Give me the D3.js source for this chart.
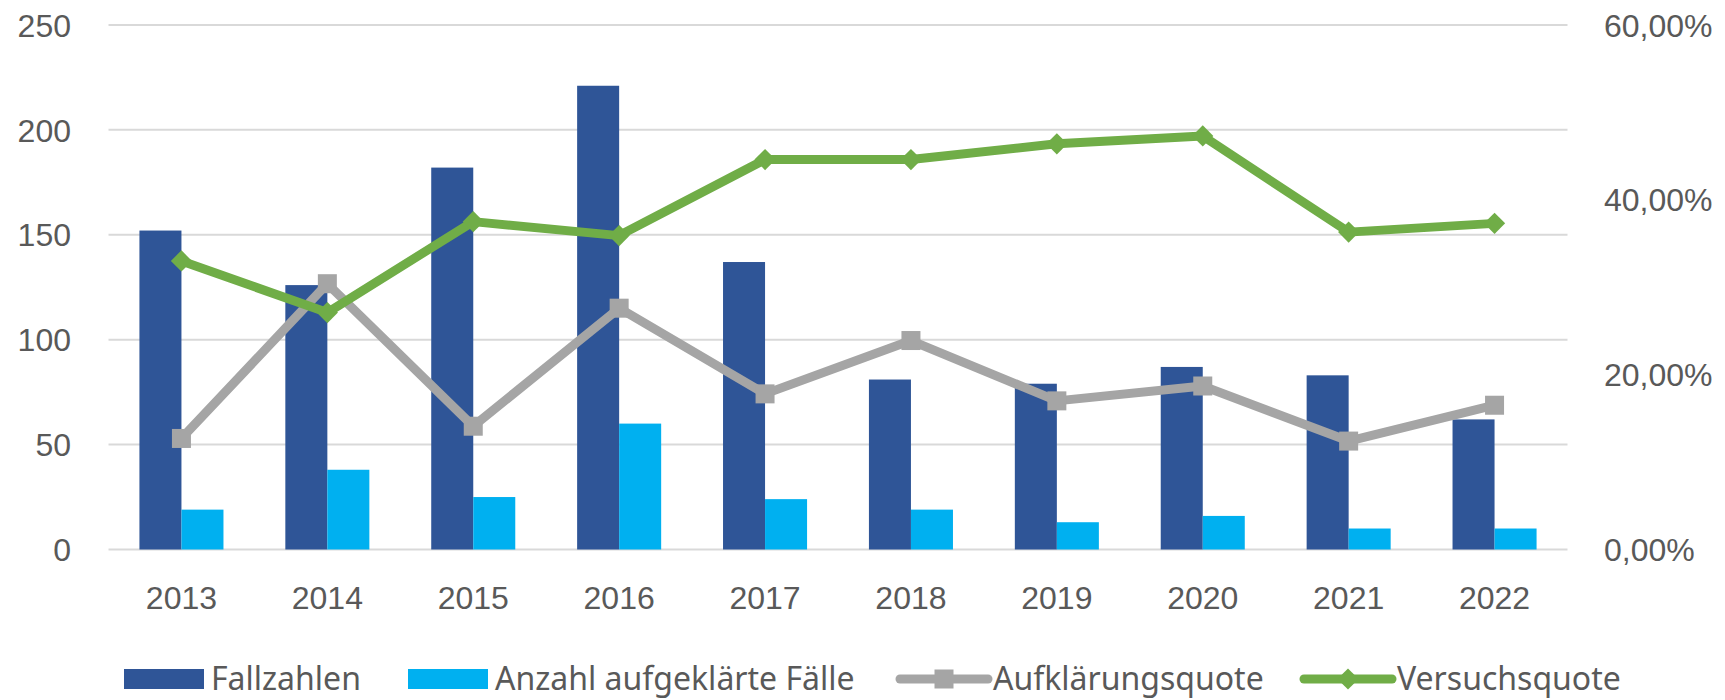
<!DOCTYPE html>
<html>
<head>
<meta charset="utf-8">
<script src="https://cdn.jsdelivr.net/npm/d3@7"></script>
<style>
  body { margin: 0; background: #fff; }
  svg { display: block; font-family: "Noto Sans", sans-serif; }
</style>
</head>
<body>
<script>
// data
const years = ["2013", "2014", "2015", "2016", "2017", "2018", "2019", "2020", "2021", "2022"];
const fallzahlen = [152, 126, 182, 221, 137, 81, 79, 87, 83, 62];
const aufgeklaert = [19, 38, 25, 60, 24, 19, 13, 16, 10, 10];
const aufklaerungsquote = [0.127, 0.304, 0.141, 0.276, 0.178, 0.239, 0.170, 0.187, 0.124, 0.165];
const versuchsquote = [0.330, 0.271, 0.375, 0.359, 0.446, 0.446, 0.464, 0.473, 0.363, 0.373];
const leftTicks = [0, 50, 100, 150, 200, 250];
const rightTicks = [0, 0.2, 0.4, 0.6];
const legendLabels = ["Fallzahlen", "Anzahl aufgeklärte Fälle", "Aufklärungsquote", "Versuchsquote"];

const W = 1725, H = 700;
const colDark = "#2F5597", colLight = "#00B0F0", colGray = "#A5A5A5", colGreen = "#70AD47";
const textCol = "#595959";

const svg = d3.select("body").append("svg")
    .attr("width", W)
    .attr("height", H);

const x0 = d3.scaleBand()
    .domain(years)
    .range([108.5, 1567.5])
    .paddingInner(0.424)
    .paddingOuter(0.212);

const x1 = d3.scaleBand()
    .domain(["f", "a"])
    .range([0, x0.bandwidth()]);

const y = d3.scaleLinear().domain([0, 250]).range([549.5, 24.9]);
const y2 = d3.scaleLinear().domain([0, 0.6]).range([549.5, 24.9]);

// gridlines
svg.append("g")
    .selectAll("line")
    .data(leftTicks)
    .join("line")
    .attr("x1", x0.range()[0])
    .attr("x2", x0.range()[1])
    .attr("y1", d => y(d))
    .attr("y2", d => y(d))
    .attr("stroke", "#D9D9D9")
    .attr("stroke-width", 2);

// left axis
const leftAxis = svg.append("g")
    .attr("transform", "translate(71,0)")
    .call(d3.axisLeft(y).tickValues(leftTicks).tickSize(0).tickPadding(0));
leftAxis.select(".domain").remove();
leftAxis.selectAll("text")
    .attr("fill", textCol)
    .style("font-size", "32px")
    .attr("dy", "0.35em");

// right axis
const pctFmt = d => d3.format(".2f")(d * 100).replace(".", ",") + "%";
const rightAxis = svg.append("g")
    .attr("transform", "translate(1604,0)")
    .call(d3.axisRight(y2).tickValues(rightTicks).tickFormat(pctFmt).tickSize(0).tickPadding(0));
rightAxis.select(".domain").remove();
rightAxis.selectAll("text")
    .attr("fill", textCol)
    .style("font-size", "32px")
    .attr("dy", "0.35em");

// bottom axis
const bottomAxis = svg.append("g")
    .attr("transform", "translate(0,549.5)")
    .call(d3.axisBottom(x0).tickSize(0).tickPadding(0));
bottomAxis.select(".domain").remove();
bottomAxis.selectAll("text")
    .attr("fill", textCol)
    .style("font-size", "32px")
    .attr("dy", "0")
    .attr("y", 59);

// bars
const groups = svg.append("g")
    .selectAll("g")
    .data(years)
    .join("g")
    .attr("transform", d => "translate(" + x0(d) + ",0)");

groups.append("rect")
    .attr("x", x1("f"))
    .attr("width", x1.bandwidth())
    .attr("y", (d, i) => y(fallzahlen[i]))
    .attr("height", (d, i) => y(0) - y(fallzahlen[i]))
    .attr("fill", colDark);

groups.append("rect")
    .attr("x", x1("a"))
    .attr("width", x1.bandwidth())
    .attr("y", (d, i) => y(aufgeklaert[i]))
    .attr("height", (d, i) => y(0) - y(aufgeklaert[i]))
    .attr("fill", colLight);

const cx = d => x0(d) + x0.bandwidth() / 2;

// Aufklärungsquote
svg.append("path")
    .datum(aufklaerungsquote)
    .attr("fill", "none")
    .attr("stroke", colGray)
    .attr("stroke-width", 9)
    .attr("stroke-linejoin", "round")
    .attr("d", d3.line().x((d, i) => cx(years[i])).y(d => y2(d)));

svg.append("g")
    .selectAll("rect")
    .data(aufklaerungsquote)
    .join("rect")
    .attr("x", (d, i) => cx(years[i]) - 9.5)
    .attr("y", d => y2(d) - 9.5)
    .attr("width", 19)
    .attr("height", 19)
    .attr("fill", colGray);

// Versuchsquote
svg.append("path")
    .datum(versuchsquote)
    .attr("fill", "none")
    .attr("stroke", colGreen)
    .attr("stroke-width", 9)
    .attr("stroke-linejoin", "round")
    .attr("d", d3.line().x((d, i) => cx(years[i])).y(d => y2(d)));

svg.append("g")
    .selectAll("rect")
    .data(versuchsquote)
    .join("rect")
    .attr("x", -7.5)
    .attr("y", -7.5)
    .attr("width", 15)
    .attr("height", 15)
    .attr("fill", colGreen)
    .attr("transform", (d, i) => "translate(" + cx(years[i]) + "," + y2(d) + ") rotate(45)");

// legend
const legX = [124, 408, 900, 1304];
const legY = 679;
const leg = svg.append("g")
    .selectAll("g")
    .data(legendLabels)
    .join("g")
    .attr("transform", (d, i) => "translate(" + legX[i] + "," + legY + ")");

leg.each(function (d, i) {
    const g = d3.select(this);
    if (i < 2) {
        g.append("rect")
            .attr("x", 0).attr("y", -10)
            .attr("width", 80).attr("height", 20)
            .attr("fill", i === 0 ? colDark : colLight);
    } else {
        const c = i === 2 ? colGray : colGreen;
        g.append("line")
            .attr("x1", 0).attr("x2", 88)
            .attr("stroke", c)
            .attr("stroke-width", 9)
            .attr("stroke-linecap", "round");
        if (i === 2) {
            g.append("rect")
                .attr("x", 44 - 9.5).attr("y", -9.5)
                .attr("width", 19).attr("height", 19)
                .attr("fill", c);
        } else {
            g.append("rect")
                .attr("x", -7.5).attr("y", -7.5)
                .attr("width", 15).attr("height", 15)
                .attr("fill", c)
                .attr("transform", "translate(44,0) rotate(45)");
        }
    }
    g.append("text")
        .attr("x", i < 2 ? 87 : 93)
        .attr("dy", "0.35em")
        .attr("fill", textCol)
        .style("font-size", "32px")
        .text(d);
});
</script>
</body>
</html>
